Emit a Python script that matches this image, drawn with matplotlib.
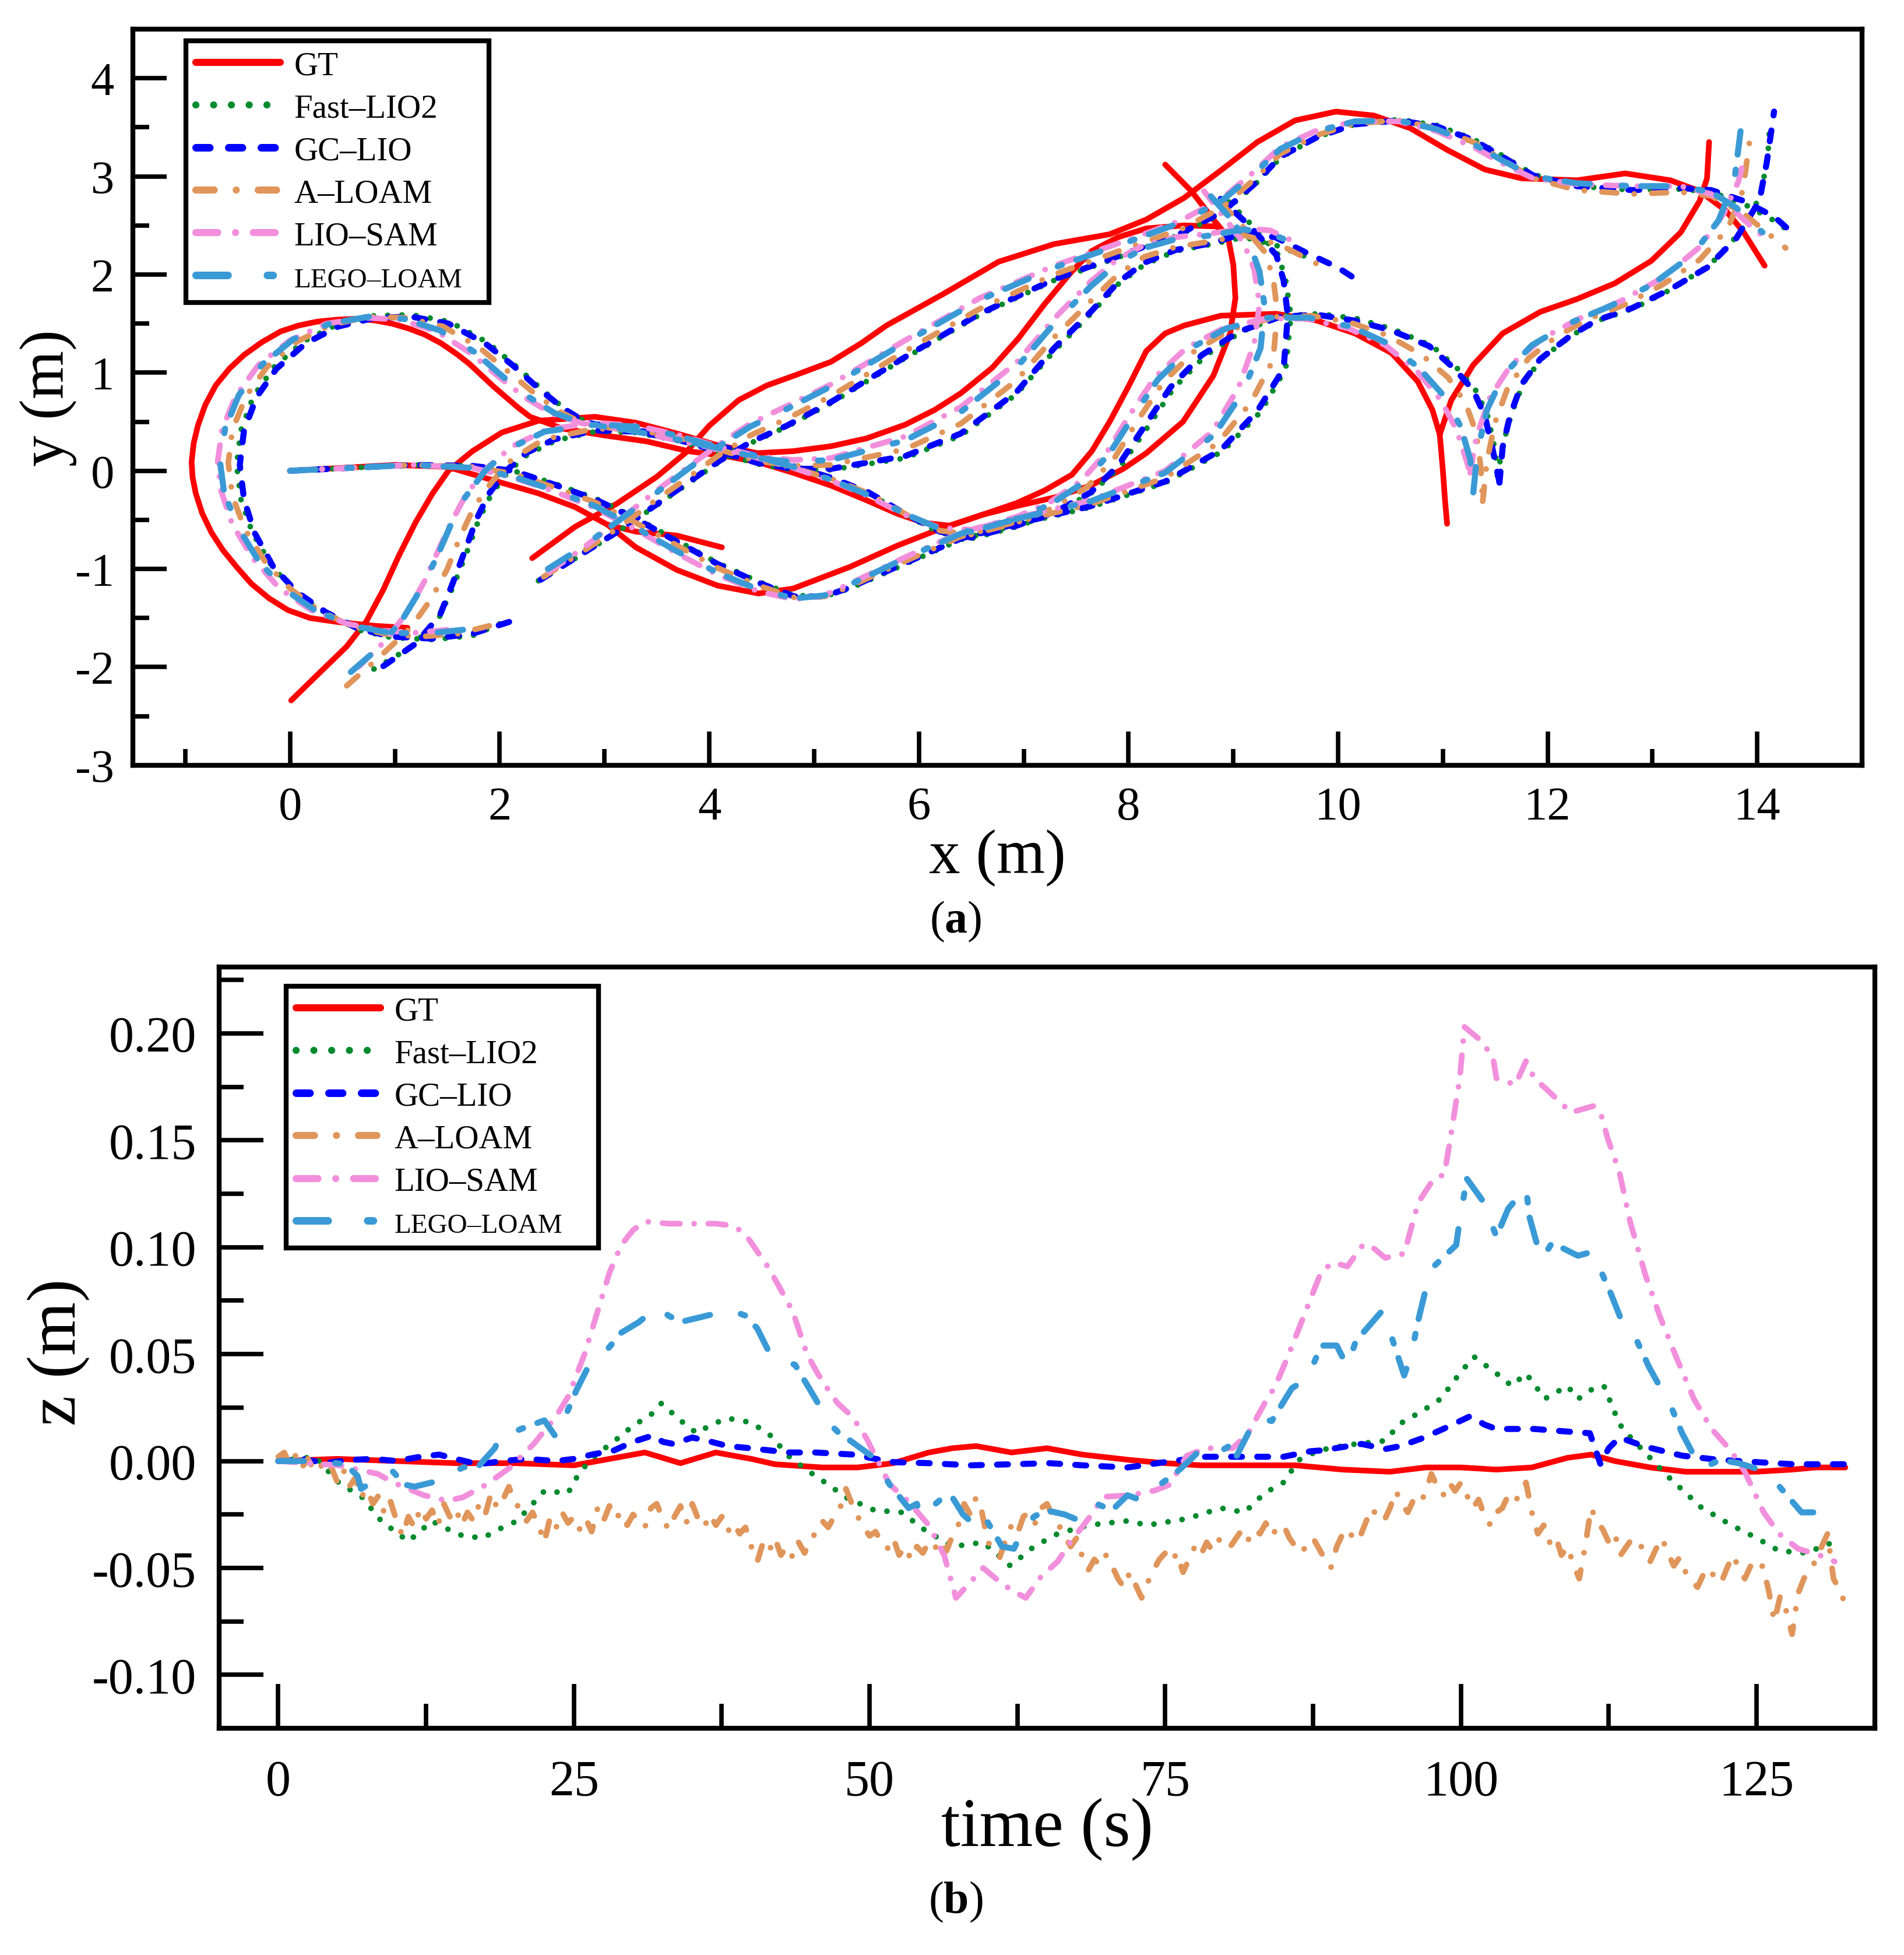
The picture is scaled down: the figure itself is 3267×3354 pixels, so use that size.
import matplotlib
matplotlib.use("Agg")
import matplotlib.pyplot as plt
import numpy as np
from matplotlib.ticker import MultipleLocator, FormatStrFormatter
from matplotlib.legend_handler import HandlerLine2D
from matplotlib.lines import Line2D

plt.rcParams['font.family'] = ['Liberation Serif', 'DejaVu Serif']
plt.rcParams['axes.unicode_minus'] = False
plt.rcParams['mathtext.fontset'] = 'custom'
plt.rcParams['mathtext.rm'] = 'Liberation Serif'
plt.rcParams['mathtext.bf'] = 'Liberation Serif:bold'

#Data##########################################################################
labels = ["GT", "Fast–LIO2", "GC–LIO", "A–LOAM", "LIO–SAM", "LEGO–LOAM"]

# (a) xy trajectories, each series is a list of strands of (x, y) points in m
gt_xy = [
    [(0, 0), (0.5, 0.03), (1.0, 0.06), (1.5, 0.04), (1.98, -0.11), (2.37, -0.23), (2.72, -0.37),
     (3.03, -0.55), (3.30, -0.78), (3.69, -1.01), (4.08, -1.17), (4.47, -1.25), (4.8, -1.2),
     (5.34, -0.98), (5.8, -0.76), (6.23, -0.58), (6.6, -0.45), (6.93, -0.36), (7.3, -0.27),
     (7.64, -0.15), (7.95, 0.02), (8.17, 0.18), (8.52, 0.5), (8.81, 0.97), (8.97, 1.4),
     (9.02, 1.76), (9.0, 2.1), (8.95, 2.38), (8.81, 2.56), (8.6, 2.85), (8.35, 3.12)],
    [(3.03, -0.55), (3.30, -0.62), (3.69, -0.66), (4.12, -0.78)],
    [(2.31, -0.89), (2.72, -0.57), (3.11, -0.34), (3.50, -0.06), (3.77, 0.18), (4.0, 0.46),
     (4.28, 0.72), (4.55, 0.87), (4.81, 0.97), (5.16, 1.11), (5.45, 1.3), (5.69, 1.48),
     (6.23, 1.80), (6.76, 2.13), (7.29, 2.31), (7.82, 2.41), (8.17, 2.56), (8.53, 2.78),
     (8.88, 3.06), (9.23, 3.35), (9.59, 3.57), (9.98, 3.66), (10.34, 3.62), (10.69, 3.49),
     (11.04, 3.27), (11.40, 3.07), (11.75, 2.98), (12.28, 2.96), (12.74, 3.03), (13.17, 2.96),
     (13.45, 2.85), (13.70, 2.65), (13.87, 2.43), (14.07, 2.09)],
    [(0.01, -2.34), (0.26, -2.08), (0.54, -1.79), (0.73, -1.53), (0.89, -1.21), (1.04, -0.86),
     (1.20, -0.52), (1.36, -0.23), (1.51, 0.0), (1.74, 0.20), (2.02, 0.39), (2.37, 0.51),
     (2.91, 0.55), (3.30, 0.49), (3.69, 0.38), (4.08, 0.26), (4.46, 0.18), (4.8, 0.2),
     (5.16, 0.25), (5.5, 0.33), (5.87, 0.47), (6.15, 0.62), (6.40, 0.79), (6.7, 1.05),
     (6.95, 1.35), (7.2, 1.7), (7.45, 2.02), (7.65, 2.24), (7.9, 2.38), (8.17, 2.47),
     (8.53, 2.50), (8.84, 2.49), (8.95, 2.40)],
    [(1.12, -1.60), (0.81, -1.58), (0.45, -1.54), (0.19, -1.50), (-0.02, -1.42), (-0.20, -1.30),
     (-0.37, -1.15), (-0.51, -0.98), (-0.64, -0.81), (-0.75, -0.63), (-0.84, -0.43),
     (-0.90, -0.23), (-0.93, -0.07), (-0.94, 0.09), (-0.92, 0.28), (-0.88, 0.46), (-0.81, 0.67),
     (-0.71, 0.87), (-0.58, 1.04), (-0.44, 1.18), (-0.27, 1.31), (-0.09, 1.42), (0.08, 1.48),
     (0.26, 1.52), (0.45, 1.54), (0.65, 1.55), (0.82, 1.53), (0.97, 1.50), (1.13, 1.45),
     (1.28, 1.39), (1.44, 1.30), (1.59, 1.19), (1.71, 1.09), (1.82, 0.98), (1.94, 0.86),
     (2.06, 0.75), (2.18, 0.64), (2.29, 0.55), (2.6, 0.43), (3.0, 0.36), (3.4, 0.3), (3.8, 0.2),
     (4.15, 0.15), (4.46, 0.09), (4.8, -0.02), (5.16, -0.15), (5.5, -0.3), (5.80, -0.44),
     (6.05, -0.53), (6.30, -0.56), (6.6, -0.45), (6.93, -0.33), (7.2, -0.2), (7.46, -0.04),
     (7.65, 0.2), (7.82, 0.50), (8.0, 0.86), (8.17, 1.22), (8.35, 1.4), (8.53, 1.48),
     (8.88, 1.58), (9.41, 1.60), (9.8, 1.53), (10.16, 1.40), (10.51, 1.20), (10.76, 0.91),
     (10.9, 0.62), (10.97, 0.37), (11.0, 0.0), (11.02, -0.3), (11.04, -0.54)],
    [(10.97, 0.37), (11.08, 0.72), (11.29, 1.08), (11.57, 1.40), (11.93, 1.62), (12.28, 1.75),
     (12.64, 1.91), (12.99, 2.14), (13.27, 2.43), (13.45, 2.75), (13.52, 2.98), (13.54, 3.35)],
]

fast_xy = [
    [(0, 0), (0.58, 0.03), (1.16, 0.06), (1.74, 0.05), (2.13, 0.0), (2.52, -0.13), (2.91, -0.28),
     (3.30, -0.48), (3.69, -0.71), (4.08, -0.94), (4.47, -1.13), (4.81, -1.27), (5.10, -1.28),
     (5.34, -1.2), (5.87, -0.95), (6.40, -0.7), (6.93, -0.55), (7.64, -0.37), (8.35, -0.12),
     (8.9, 0.2), (9.26, 0.6), (9.5, 1.04), (9.55, 1.58), (9.5, 1.94), (9.43, 2.2), (9.18, 2.5),
     (8.95, 2.75)],
    [(2.37, -1.12), (2.71, -0.9), (3.1, -0.64), (3.5, -0.35), (3.81, -0.12), (4.08, 0.08),
     (4.39, 0.28), (4.74, 0.45), (5.16, 0.69), (5.87, 1.15), (6.58, 1.59), (7.29, 1.94),
     (7.99, 2.21), (8.50, 2.41), (8.90, 2.63), (9.20, 2.91), (9.45, 3.19), (9.80, 3.4),
     (10.16, 3.53), (10.58, 3.58), (10.94, 3.52), (11.29, 3.38), (11.57, 3.21), (11.86, 3.02),
     (12.28, 2.9), (12.81, 2.86), (13.27, 2.87), (13.56, 2.84), (13.87, 2.72), (14.16, 2.55),
     (14.32, 2.43)],
    [(0.8, -2.02), (1.15, -1.8), (1.42, -1.5), (1.56, -1.17), (1.69, -0.82), (1.8, -0.5),
     (1.92, -0.24), (2.08, -0.01), (2.27, 0.17), (2.54, 0.31), (2.91, 0.4), (3.30, 0.39),
     (3.69, 0.31), (4.08, 0.19), (4.46, 0.07), (4.80, 0.01), (5.16, 0.01), (5.87, 0.13),
     (6.40, 0.36), (6.93, 0.78), (7.29, 1.22), (7.64, 1.6), (7.90, 1.9), (8.15, 2.1),
     (8.45, 2.24), (8.80, 2.31), (9.10, 2.38), (9.40, 2.3), (9.7, 2.18)],
    [(2.0, -1.56), (1.74, -1.68), (1.36, -1.72), (0.97, -1.7), (0.65, -1.62), (0.34, -1.45),
     (0.07, -1.25), (-0.17, -0.98), (-0.36, -0.63), (-0.47, -0.29), (-0.51, 0.06), (-0.47, 0.41),
     (-0.35, 0.76), (-0.15, 1.06), (0.13, 1.32), (0.45, 1.49), (0.8, 1.58), (1.16, 1.59),
     (1.52, 1.52), (1.88, 1.31), (2.15, 1.07), (2.39, 0.84), (2.62, 0.63), (2.85, 0.48),
     (3.11, 0.43), (3.50, 0.37), (3.90, 0.29), (4.30, 0.19), (4.70, 0.07), (5.16, -0.08),
     (5.52, -0.23), (5.87, -0.45), (6.20, -0.63), (6.50, -0.69), (6.93, -0.57), (7.30, -0.43),
     (7.64, -0.23), (7.92, 0.04), (8.18, 0.44), (8.43, 0.84), (8.73, 1.17), (9.08, 1.42),
     (9.47, 1.58), (9.82, 1.6), (10.18, 1.55), (10.53, 1.44), (10.9, 1.27), (11.14, 1.04),
     (11.32, 0.81), (11.43, 0.55), (11.5, 0.2), (11.52, -0.05)],
    [(11.52, -0.05), (11.58, 0.3), (11.66, 0.6), (11.77, 0.9), (11.95, 1.15), (12.23, 1.38),
     (12.48, 1.53), (12.83, 1.66), (13.2, 1.86), (13.55, 2.1), (13.83, 2.42), (14.03, 2.8),
     (14.1, 3.2), (14.12, 3.55)],
]

gc_xy = [
    [(0, 0), (0.58, 0.03), (1.16, 0.06), (1.74, 0.05), (2.13, 0.0), (2.52, -0.14), (2.91, -0.29),
     (3.30, -0.49), (3.69, -0.72), (4.08, -0.95), (4.47, -1.14), (4.81, -1.28), (5.10, -1.28),
     (5.34, -1.19), (5.87, -0.94), (6.40, -0.69), (6.93, -0.54), (7.64, -0.36), (8.35, -0.11),
     (8.88, 0.21), (9.23, 0.61), (9.48, 1.04), (9.52, 1.58), (9.48, 1.94), (9.41, 2.20),
     (9.16, 2.49), (8.88, 2.77)],
    [(2.39, -1.11), (2.72, -0.89), (3.11, -0.63), (3.50, -0.34), (3.81, -0.11), (4.08, 0.09),
     (4.39, 0.29), (4.74, 0.46), (5.16, 0.70), (5.87, 1.16), (6.58, 1.60), (7.29, 1.95),
     (7.99, 2.22), (8.50, 2.42), (8.90, 2.64), (9.20, 2.92), (9.45, 3.20), (9.80, 3.40),
     (10.16, 3.53), (10.58, 3.57), (10.94, 3.51), (11.29, 3.37), (11.57, 3.20), (11.86, 3.01),
     (12.28, 2.90), (12.81, 2.86), (13.27, 2.88), (13.56, 2.86), (13.87, 2.75), (14.16, 2.59),
     (14.35, 2.41)],
    [(0.89, -1.99), (1.20, -1.76), (1.43, -1.47), (1.55, -1.15), (1.67, -0.81), (1.78, -0.49),
     (1.90, -0.23), (2.06, 0.0), (2.25, 0.18), (2.52, 0.32), (2.91, 0.41), (3.30, 0.40),
     (3.69, 0.32), (4.08, 0.20), (4.46, 0.08), (4.80, 0.02), (5.16, 0.02), (5.87, 0.15),
     (6.40, 0.38), (6.93, 0.80), (7.29, 1.25), (7.64, 1.62), (7.90, 1.92), (8.15, 2.12),
     (8.45, 2.25), (8.80, 2.32), (9.10, 2.42), (9.40, 2.38), (9.70, 2.22), (10.0, 2.07),
     (10.23, 1.91)],
    [(2.09, -1.54), (1.74, -1.66), (1.36, -1.71), (0.97, -1.69), (0.65, -1.61), (0.34, -1.44),
     (0.07, -1.24), (-0.16, -0.98), (-0.34, -0.63), (-0.44, -0.29), (-0.48, 0.06), (-0.44, 0.41),
     (-0.32, 0.75), (-0.13, 1.04), (0.15, 1.30), (0.46, 1.47), (0.81, 1.56), (1.16, 1.57),
     (1.51, 1.50), (1.86, 1.30), (2.13, 1.07), (2.37, 0.84), (2.60, 0.64), (2.83, 0.49),
     (3.11, 0.44), (3.50, 0.38), (3.90, 0.30), (4.30, 0.20), (4.70, 0.08), (5.16, -0.07),
     (5.52, -0.22), (5.87, -0.44), (6.20, -0.62), (6.50, -0.68), (6.93, -0.56), (7.30, -0.42),
     (7.64, -0.22), (7.90, 0.05), (8.15, 0.45), (8.40, 0.85), (8.70, 1.18), (9.06, 1.42),
     (9.45, 1.57), (9.80, 1.59), (10.16, 1.53), (10.51, 1.43), (10.87, 1.27), (11.11, 1.04),
     (11.29, 0.82), (11.40, 0.56), (11.47, 0.24), (11.54, -0.12)],
    [(11.54, -0.12), (11.57, 0.24), (11.64, 0.56), (11.75, 0.88), (11.93, 1.14), (12.21, 1.37),
     (12.46, 1.53), (12.81, 1.66), (13.17, 1.85), (13.52, 2.07), (13.80, 2.37), (14.02, 2.75),
     (14.09, 3.14), (14.16, 3.66)],
]

aloam_xy = [
    [(0, 0), (0.58, 0.03), (1.16, 0.06), (1.74, 0.04), (2.13, -0.03), (2.52, -0.17), (2.91, -0.32),
     (3.30, -0.53), (3.69, -0.76), (4.08, -0.99), (4.47, -1.17), (4.81, -1.29), (5.10, -1.28),
     (5.34, -1.18), (5.87, -0.92), (6.40, -0.67), (6.93, -0.52), (7.64, -0.34), (8.35, -0.07),
     (8.85, 0.28), (9.17, 0.7), (9.38, 1.13), (9.42, 1.62), (9.38, 1.97), (9.3, 2.23),
     (9.06, 2.53), (8.82, 2.8)],
    [(2.42, -1.08), (2.74, -0.86), (3.12, -0.59), (3.5, -0.29), (3.81, -0.06), (4.08, 0.15),
     (4.39, 0.36), (4.74, 0.53), (5.16, 0.76), (5.87, 1.22), (6.58, 1.65), (7.29, 2.0),
     (7.99, 2.27), (8.50, 2.46), (8.90, 2.69), (9.20, 2.97), (9.45, 3.23), (9.80, 3.42),
     (10.16, 3.54), (10.58, 3.57), (10.94, 3.49), (11.29, 3.35), (11.57, 3.17), (11.86, 2.98),
     (12.28, 2.86), (12.81, 2.82), (13.27, 2.84), (13.56, 2.8), (13.87, 2.62), (14.1, 2.42),
     (14.27, 2.27)],
    [(0.54, -2.19), (0.85, -1.9), (1.15, -1.6), (1.35, -1.3), (1.5, -1.0), (1.62, -0.68),
     (1.75, -0.38), (1.92, -0.12), (2.12, 0.12), (2.42, 0.32), (2.91, 0.43), (3.30, 0.42),
     (3.69, 0.34), (4.08, 0.22), (4.46, 0.1), (4.80, 0.05), (5.16, 0.06), (5.87, 0.22),
     (6.40, 0.48), (6.93, 0.92), (7.29, 1.36), (7.64, 1.73), (7.90, 2.0), (8.15, 2.18),
     (8.45, 2.28), (8.80, 2.34), (9.10, 2.4), (9.45, 2.3), (9.85, 2.08)],
    [(1.9, -1.58), (1.6, -1.66), (1.25, -1.69), (0.9, -1.66), (0.58, -1.58), (0.27, -1.42),
     (0.0, -1.2), (-0.23, -0.94), (-0.43, -0.6), (-0.55, -0.26), (-0.59, 0.08), (-0.55, 0.42),
     (-0.42, 0.76), (-0.22, 1.06), (0.07, 1.32), (0.4, 1.49), (0.76, 1.57), (1.1, 1.56),
     (1.46, 1.47), (1.8, 1.26), (2.07, 1.02), (2.32, 0.8), (2.56, 0.61), (2.8, 0.48), (3.1, 0.43),
     (3.5, 0.36), (3.9, 0.28), (4.3, 0.18), (4.7, 0.06), (5.16, -0.08), (5.52, -0.23),
     (5.87, -0.44), (6.2, -0.61), (6.5, -0.65), (6.93, -0.53), (7.28, -0.38), (7.6, -0.17),
     (7.86, 0.12), (8.08, 0.5), (8.33, 0.9), (8.63, 1.22), (8.98, 1.44), (9.38, 1.56),
     (9.75, 1.58), (10.12, 1.51), (10.47, 1.38), (10.8, 1.18), (11.05, 0.95), (11.22, 0.68),
     (11.32, 0.38), (11.36, 0.05), (11.38, -0.31)],
    [(11.38, -0.31), (11.42, 0.1), (11.5, 0.5), (11.62, 0.85), (11.82, 1.15), (12.1, 1.38),
     (12.4, 1.55), (12.75, 1.7), (13.1, 1.9), (13.45, 2.15), (13.72, 2.47), (13.86, 2.85),
     (13.93, 3.38)],
]

liosam_xy = [
    [(0, 0), (0.58, 0.03), (1.16, 0.06), (1.74, 0.03), (2.13, -0.07), (2.52, -0.21), (2.91, -0.38),
     (3.30, -0.60), (3.69, -0.84), (4.08, -1.06), (4.47, -1.23), (4.81, -1.31), (5.10, -1.27),
     (5.34, -1.15), (5.87, -0.88), (6.40, -0.63), (6.93, -0.48), (7.64, -0.30), (8.35, 0.0),
     (8.80, 0.4), (9.05, 0.85), (9.2, 1.3), (9.25, 1.7), (9.2, 2.05), (9.1, 2.32), (8.9, 2.6),
     (8.72, 2.85)],
    [(2.47, -1.03), (2.78, -0.8), (3.13, -0.51), (3.5, -0.2), (3.81, 0.05), (4.08, 0.26),
     (4.39, 0.48), (4.74, 0.66), (5.16, 0.88), (5.87, 1.33), (6.58, 1.76), (7.29, 2.09),
     (7.99, 2.35), (8.50, 2.55), (8.90, 2.78), (9.20, 3.05), (9.45, 3.3), (9.80, 3.47),
     (10.16, 3.56), (10.58, 3.56), (10.94, 3.46), (11.29, 3.3), (11.57, 3.13), (11.86, 2.98),
     (12.28, 2.92), (12.81, 2.9), (13.27, 2.9), (13.56, 2.82), (13.8, 2.63), (13.98, 2.45),
     (14.09, 2.37)],
    [(0.65, -2.0), (0.92, -1.72), (1.13, -1.42), (1.28, -1.13), (1.41, -0.82), (1.54, -0.52),
     (1.68, -0.24), (1.88, 0.03), (2.12, 0.25), (2.45, 0.42), (2.91, 0.49), (3.30, 0.46),
     (3.69, 0.37), (4.08, 0.25), (4.46, 0.15), (4.80, 0.11), (5.16, 0.13), (5.87, 0.35),
     (6.40, 0.65), (6.93, 1.1), (7.29, 1.55), (7.64, 1.93), (7.90, 2.16), (8.15, 2.3),
     (8.45, 2.38), (8.80, 2.42), (9.10, 2.47), (9.35, 2.45), (9.55, 2.35)],
    [(1.5, -1.62), (1.2, -1.65), (0.9, -1.63), (0.55, -1.56), (0.2, -1.42), (-0.1, -1.2),
     (-0.35, -0.9), (-0.55, -0.55), (-0.66, -0.2), (-0.69, 0.1), (-0.65, 0.42), (-0.52, 0.76),
     (-0.3, 1.08), (0.0, 1.33), (0.35, 1.5), (0.72, 1.56), (1.05, 1.54), (1.4, 1.42), (1.72, 1.2),
     (2.0, 0.95), (2.25, 0.74), (2.5, 0.58), (2.8, 0.48), (3.2, 0.42), (3.6, 0.33), (4.0, 0.24),
     (4.4, 0.15), (4.8, 0.03), (5.16, -0.1), (5.5, -0.25), (5.87, -0.45), (6.2, -0.58),
     (6.5, -0.6), (6.93, -0.47), (7.25, -0.32), (7.55, -0.1), (7.8, 0.2), (8.0, 0.55),
     (8.25, 0.95), (8.55, 1.25), (8.9, 1.45), (9.3, 1.55), (9.7, 1.55), (10.1, 1.45),
     (10.45, 1.28), (10.75, 1.02), (10.98, 0.72), (11.13, 0.42), (11.22, 0.12), (11.26, -0.02)],
    [(11.26, -0.02), (11.32, 0.35), (11.45, 0.75), (11.65, 1.08), (11.95, 1.35), (12.3, 1.55),
     (12.7, 1.73), (13.1, 1.97), (13.45, 2.28), (13.68, 2.62), (13.82, 2.95), (13.88, 3.2)],
]

lego_xy = [
    [(0, 0), (0.58, 0.03), (1.16, 0.06), (1.74, 0.03), (2.13, -0.06), (2.52, -0.2), (2.91, -0.36),
     (3.30, -0.58), (3.69, -0.82), (4.08, -1.04), (4.47, -1.21), (4.81, -1.3), (5.10, -1.27),
     (5.34, -1.16), (5.87, -0.89), (6.40, -0.64), (6.93, -0.49), (7.64, -0.31), (8.35, -0.02),
     (8.82, 0.37), (9.09, 0.8), (9.26, 1.25), (9.3, 1.67), (9.25, 2.03), (9.16, 2.3),
     (8.95, 2.6), (8.7, 2.9)],
    [(2.46, -1.0), (2.77, -0.79), (3.12, -0.52), (3.5, -0.22), (3.81, 0.03), (4.08, 0.24),
     (4.39, 0.45), (4.74, 0.63), (5.16, 0.86), (5.87, 1.31), (6.58, 1.74), (7.29, 2.07),
     (7.99, 2.33), (8.50, 2.53), (8.90, 2.76), (9.20, 3.03), (9.45, 3.28), (9.80, 3.46),
     (10.16, 3.56), (10.58, 3.57), (10.94, 3.48), (11.29, 3.33), (11.57, 3.16), (11.86, 3.0),
     (12.28, 2.93), (12.81, 2.9), (13.27, 2.9), (13.56, 2.84), (13.8, 2.68), (13.95, 2.52),
     (14.05, 2.43)],
    [(0.58, -2.05), (0.85, -1.8), (1.08, -1.5), (1.25, -1.2), (1.4, -0.88), (1.53, -0.56),
     (1.67, -0.27), (1.86, 0.0), (2.1, 0.23), (2.43, 0.4), (2.91, 0.47), (3.30, 0.45),
     (3.69, 0.36), (4.08, 0.24), (4.46, 0.13), (4.80, 0.09), (5.16, 0.11), (5.87, 0.31),
     (6.40, 0.6), (6.93, 1.05), (7.29, 1.5), (7.64, 1.88), (7.90, 2.12), (8.15, 2.27),
     (8.45, 2.36), (8.80, 2.4), (9.10, 2.46), (9.35, 2.42), (9.55, 2.33)],
    [(1.65, -1.62), (1.3, -1.66), (0.95, -1.65), (0.6, -1.58), (0.25, -1.43), (-0.05, -1.21),
     (-0.3, -0.92), (-0.5, -0.57), (-0.63, -0.22), (-0.67, 0.1), (-0.62, 0.43), (-0.49, 0.77),
     (-0.27, 1.08), (0.03, 1.34), (0.38, 1.5), (0.75, 1.57), (1.08, 1.55), (1.43, 1.43),
     (1.76, 1.21), (2.03, 0.96), (2.28, 0.75), (2.52, 0.59), (2.8, 0.48), (3.2, 0.42), (3.6, 0.34),
     (4.0, 0.25), (4.4, 0.16), (4.8, 0.04), (5.16, -0.09), (5.5, -0.24), (5.87, -0.44),
     (6.2, -0.59), (6.5, -0.62), (6.93, -0.49), (7.26, -0.34), (7.57, -0.12), (7.82, 0.18),
     (8.03, 0.53), (8.28, 0.93), (8.58, 1.24), (8.93, 1.45), (9.33, 1.56), (9.72, 1.56),
     (10.12, 1.47), (10.47, 1.3), (10.77, 1.05), (11.02, 0.75), (11.17, 0.45), (11.26, 0.12),
     (11.29, -0.22)],
    [(11.29, -0.22), (11.33, 0.2), (11.42, 0.62), (11.58, 0.98), (11.85, 1.28), (12.2, 1.5),
     (12.6, 1.68), (13.0, 1.9), (13.38, 2.2), (13.63, 2.55), (13.78, 2.95), (13.84, 3.46)],
]

# (b) z over time, (t [s], z [m])
gt_tz = [(0, 0), (5, 0.001), (10, 0), (15, -0.001), (20, -0.001), (25, -0.002), (28, 0.001),
         (31, 0.004), (34, -0.001), (37, 0.004), (40, 0.001), (42, -0.0015), (46, -0.003),
         (49, -0.003), (52, -0.001), (55, 0.004), (57, 0.006), (59, 0.007), (62, 0.004),
         (65, 0.006), (68, 0.003), (72, 0.0005), (75, -0.001), (78, -0.002), (82, -0.002),
         (86, -0.002), (90, -0.004), (94, -0.005), (97, -0.003), (100, -0.003), (103, -0.004),
         (106, -0.003), (109, 0.0015), (111, 0.003), (113, 0.0), (116, -0.003), (119, -0.005),
         (122, -0.005), (125, -0.005), (128, -0.004), (130, -0.003), (132.5, -0.003)]

fast_tz = [(0, 0), (3.1, 0.002), (5.1, -0.010), (7.1, -0.017), (8.7, -0.028), (11, -0.0376),
           (13, -0.028), (13.6, -0.030), (15.6, -0.035), (17.3, -0.036), (18.6, -0.032),
           (20.2, -0.028), (22.5, -0.014), (24.5, -0.015), (25.5, -0.005), (26.8, 0.0025),
           (28.8, 0.011), (30.1, 0.017), (31.4, 0.021), (32.4, 0.027), (34, 0.019), (35.4, 0.013),
           (36.6, 0.017), (38, 0.020), (40, 0.018), (41.6, 0.012), (43.3, 0.0015), (44.9, -0.005),
           (46.5, -0.011), (48, -0.017), (50.4, -0.023), (52.7, -0.024), (54.6, -0.032),
           (57, -0.040), (59.6, -0.038), (61.9, -0.049), (63.9, -0.040), (65.9, -0.034),
           (68.5, -0.030), (71.8, -0.028), (73.5, -0.030), (76.8, -0.027), (79.7, -0.022),
           (81.7, -0.024), (83.4, -0.015), (85, -0.010), (86.3, 0.0005), (88, 0.005),
           (90.4, 0.0075), (93.6, 0.0095), (94.8, 0.0173), (96.7, 0.0233), (98.3, 0.0291),
           (99.9, 0.041), (101.1, 0.0488), (103, 0.041), (104.3, 0.0351), (105.5, 0.041),
           (107.1, 0.0291), (109, 0.0351), (109.9, 0.029), (111.2, 0.034), (112.1, 0.035),
           (113.4, 0.0173), (114.3, 0.0113), (117.5, -0.0072), (120.3, -0.0216), (122.8, -0.0298),
           (125, -0.036), (126.9, -0.042), (129.4, -0.0431), (130.7, -0.039), (132.2, -0.038)]

gc_tz = [(0, 0), (2, 0.001), (4, -0.001), (6, 0.0005), (8, 0.001), (10, 0.0), (12, 0.002),
         (13.6, 0.003), (15, 0.001), (16.9, -0.0015), (19, 0.0), (21, 0.001), (23.5, 0.0),
         (25, 0.001), (26.5, 0.003), (28.4, 0.005), (30, 0.009), (31.7, 0.012), (32.5, 0.009),
         (33.4, 0.008), (35, 0.011), (36.6, 0.009), (38, 0.007), (39.9, 0.006), (41.5, 0.005),
         (43.2, 0.004), (45.4, 0.004), (48.7, 0.003), (50.5, 0.001), (52, -0.0005), (55, -0.001),
         (58.6, -0.002), (62, -0.0015), (65.2, -0.001), (68, -0.002), (71.8, -0.003),
         (75, -0.0005), (78.4, 0.002), (82, 0.002), (85, 0.002), (87.3, 0.0046), (88.3, 0.005),
         (91.6, 0.008), (93.6, 0.0056), (94.9, 0.007), (96.7, 0.0106), (98.5, 0.015),
         (100.8, 0.021), (102, 0.017), (103, 0.015), (106.2, 0.015), (108.5, 0.014),
         (110.9, 0.013), (111.8, -0.0015), (112.5, 0.006), (113.4, 0.011), (115.6, 0.0067),
         (118.7, 0.0025), (121.9, 0.0005), (125, -0.0005), (128.1, -0.0015), (132.5, -0.0015)]

# A-LOAM is read every 0.5 s from t = 0 s to t = 132.5 s
aloam_t0, aloam_dt = 0.0, 0.5
aloam_z = [
    0.002, 0.004, -0.002, 0.003, -0.003, 0.001, -0.004, -0.001, -0.006, -0.003, -0.010,
    -0.004, -0.012, -0.008, -0.017, -0.013, -0.020, -0.016, -0.025, -0.019, -0.028,
    -0.035, -0.026, -0.031, -0.022, -0.027, -0.023, -0.030, -0.020, -0.026, -0.022,
    -0.030, -0.024, -0.028, -0.020, -0.025, -0.015, -0.022, -0.018, -0.012, -0.020,
    -0.022, -0.028, -0.024, -0.030, -0.038, -0.026, -0.031, -0.024, -0.029, -0.026,
    -0.032, -0.027, -0.033, -0.022, -0.028, -0.021, -0.027, -0.024, -0.030, -0.025,
    -0.028, -0.031, -0.022, -0.020, -0.027, -0.032, -0.026, -0.021, -0.029, -0.020,
    -0.027, -0.031, -0.025, -0.030, -0.026, -0.033, -0.029, -0.034, -0.031, -0.040,
    -0.047, -0.038, -0.042, -0.036, -0.044, -0.040, -0.045, -0.038, -0.043, -0.037,
    -0.033, -0.028, -0.031, -0.026, -0.022, -0.013, -0.020, -0.026, -0.031, -0.035,
    -0.033, -0.038, -0.041, -0.036, -0.044, -0.040, -0.046, -0.040, -0.043, -0.038,
    -0.041, -0.037, -0.042, -0.035, -0.030, -0.020, -0.025, -0.017, -0.024, -0.038,
    -0.041, -0.045, -0.037, -0.030, -0.034, -0.026, -0.024, -0.029, -0.022, -0.020,
    -0.026, -0.030, -0.035, -0.040, -0.036, -0.045, -0.051, -0.046, -0.049, -0.044,
    -0.049, -0.055, -0.059, -0.052, -0.058, -0.064, -0.057, -0.051, -0.046, -0.043,
    -0.047, -0.043, -0.052, -0.046, -0.040, -0.044, -0.038, -0.042, -0.037, -0.036,
    -0.040, -0.036, -0.032, -0.037, -0.032, -0.034, -0.029, -0.035, -0.031, -0.030,
    -0.036, -0.040, -0.043, -0.039, -0.036, -0.041, -0.046, -0.050, -0.040, -0.034,
    -0.037, -0.032, -0.035, -0.028, -0.022, -0.027, -0.028, -0.022, -0.014, -0.020,
    -0.024, -0.018, -0.020, -0.015, -0.006, -0.012, -0.016, -0.010, -0.014, -0.010,
    -0.016, -0.022, -0.018, -0.026, -0.030, -0.024, -0.022, -0.016, -0.019, -0.016,
    -0.010, -0.024, -0.034, -0.030, -0.038, -0.035, -0.044, -0.040, -0.048, -0.055,
    -0.040, -0.022, -0.028, -0.032, -0.038, -0.034, -0.044, -0.040, -0.036, -0.038,
    -0.042, -0.047, -0.041, -0.036, -0.043, -0.049, -0.045, -0.052, -0.056, -0.059,
    -0.053, -0.050, -0.055, -0.057, -0.050, -0.044, -0.050, -0.055, -0.049, -0.052,
    -0.049, -0.060, -0.075, -0.063, -0.070, -0.081, -0.062, -0.055, -0.050, -0.047,
    -0.040, -0.034, -0.055, -0.060, -0.067,
]

liosam_tz = [(0, 0), (5.1, -0.002), (8.4, -0.006), (9.7, -0.010), (12.3, -0.016), (14.3, -0.0186),
             (15.6, -0.017), (17.6, -0.011), (19.6, -0.003), (21.6, 0.008), (23.5, 0.021),
             (24.5, 0.030), (25.2, 0.040), (25.9, 0.050), (27, 0.07), (28, 0.088), (29, 0.101),
             (30, 0.108), (31, 0.112), (33, 0.111), (35, 0.111), (37, 0.111), (38.5, 0.11),
             (39.5, 0.106), (40.5, 0.098), (41.5, 0.09), (42.5, 0.08), (43.5, 0.07), (44.7, 0.05),
             (45.6, 0.041), (46.3, 0.035), (47.3, 0.027), (48.5, 0.021), (49.7, 0.011),
             (50.7, 0.0), (51.7, -0.011), (53.3, -0.019), (55, -0.030), (56.3, -0.044),
             (57.3, -0.064), (58.3, -0.058), (59.6, -0.050), (60.9, -0.056), (61.9, -0.060),
             (63.2, -0.064), (64.5, -0.054), (65.9, -0.047), (66.9, -0.0385), (68.5, -0.027),
             (69.8, -0.0167), (72, -0.016), (74.1, -0.0138), (75.4, -0.011), (76.8, 0.0024),
             (78.4, 0.006), (80.7, 0.006), (82, 0.0129), (83.4, 0.027), (84.3, 0.035),
             (85.3, 0.048), (86.3, 0.062), (87.3, 0.076), (88.2, 0.0887), (89.2, 0.0928),
             (90.4, 0.091), (91.7, 0.101), (92.3, 0.101), (93.6, 0.095), (95.2, 0.097),
             (96.4, 0.121), (97.7, 0.132), (98.6, 0.134), (99.2, 0.154), (99.9, 0.179),
             (100.3, 0.203), (101.6, 0.197), (102.7, 0.189), (103, 0.179), (104.6, 0.176),
             (105.5, 0.187), (106.2, 0.179), (107.4, 0.173), (109.3, 0.163), (111.2, 0.166),
             (111.8, 0.163), (112.4, 0.151), (113.4, 0.135), (114.3, 0.112), (115.6, 0.087),
             (116.8, 0.068), (118.1, 0.050), (119.7, 0.029), (121.2, 0.015), (122.8, 0.005),
             (124, -0.005), (125.6, -0.024), (126.9, -0.034), (128.5, -0.041), (130.3, -0.044),
             (131.6, -0.047)]

lego_tz = [(0, 0), (3.1, 0.0), (5.7, -0.0015), (6.7, -0.007), (7.0, -0.013), (8.5, -0.008),
           (9.7, -0.005), (10.7, -0.011), (11.5, -0.012), (13, -0.01), (14.3, -0.007),
           (15.6, -0.003), (17, -0.002), (18.3, 0.006), (18.9, 0.013), (19.6, 0.013), (21, 0.016),
           (22.5, 0.019), (23.5, 0.011), (24.2, 0.02), (25.2, 0.033), (26.2, 0.044),
           (27.8, 0.052), (29, 0.06), (30.5, 0.065), (32, 0.072), (33, 0.068), (34, 0.065),
           (35.5, 0.067), (37, 0.069), (38.5, 0.07), (39.5, 0.068), (40.5, 0.062), (41.4, 0.052),
           (42, 0.048), (43.7, 0.045), (45, 0.033), (46.7, 0.017), (47.6, 0.012), (48, 0.011),
           (50.4, 0.0014), (51, -0.005), (51.7, -0.011), (53.3, -0.022), (54, -0.020),
           (54.3, -0.026), (56, -0.018), (57, -0.017), (57.9, -0.025), (58.9, -0.030),
           (59.6, -0.025), (61.2, -0.040), (62.2, -0.041), (62.9, -0.033), (63.9, -0.026),
           (64.9, -0.023), (66.5, -0.025), (67.8, -0.028), (69.2, -0.020), (70.5, -0.023),
           (71.8, -0.016), (72.8, -0.018), (73.8, -0.014), (75.8, -0.006), (77.1, 0.0005),
           (78.1, 0.006), (79.5, 0.004), (80.4, 0.007), (81, 0.002), (82.7, 0.0205),
           (84, 0.0187), (85.7, 0.034), (87, 0.0386), (88.2, 0.054), (89.5, 0.054),
           (90.4, 0.044), (91.1, 0.056), (93.3, 0.070), (93.9, 0.062), (95.2, 0.040),
           (95.8, 0.050), (96.4, 0.066), (97.4, 0.089), (97.7, 0.091), (99.6, 0.101),
           (99.9, 0.113), (100.5, 0.132), (101.8, 0.122), (103, 0.105), (104, 0.118),
           (105.5, 0.128), (105.8, 0.114), (106.8, 0.094), (107.7, 0.102), (109.9, 0.096),
           (111.2, 0.098), (111.5, 0.093), (112.7, 0.078), (113.7, 0.064), (114.9, 0.056),
           (115.9, 0.044), (117.8, 0.025), (118.7, 0.013), (120.3, -0.0037), (121.9, 0.0005),
           (123.5, -0.001), (125, -0.0036), (126.6, -0.0098), (128.8, -0.024), (131.6, -0.024)]

#Styles########################################################################
colors = ["#ff0000", "#008a2e", "#0000ff", "#e0955a", "#f28fdc", "#3a9ad6"]
widths = [7.0, 7.0, 7.5, 7.0, 7.0, 7.5]
dashes = ["-", (0, (0.01, 2.5)), (0, (1.8, 2.5)), (0, (2.6, 3.1, 0.01, 3.1)),
          (0, (3.1, 2.5, 0.01, 2.5)), (0, (4.2, 5.2, 0.75, 2.5))]


def join(strands):
    xs, ys = [], []
    for s in strands:
        a = np.array(s, dtype=float)
        xs += list(a[:, 0]) + [np.nan]
        ys += list(a[:, 1]) + [np.nan]
    return xs, ys


def style_axes(ax, major_len, minor_len, xpad, ypad, size):
    for sp in ax.spines.values():
        sp.set_linewidth(6)
    ax.tick_params(which="both", direction="in", top=False, right=False, width=5.5,
                   labelsize=size)
    ax.tick_params(which="major", length=major_len)
    ax.tick_params(which="minor", length=minor_len)
    ax.tick_params(axis="x", pad=xpad)
    ax.tick_params(axis="y", pad=ypad)


def add_legend(ax, handles, box):
    # box = (x0, y_top, width) in axes fraction, legend frame spans that width
    x0, y_top, w = box
    leg = ax.legend(handles=handles, loc="upper left", bbox_to_anchor=(x0, y_top - 0.5, w, 0.5),
                    mode="expand", borderaxespad=0, fontsize=41, frameon=True, fancybox=False,
                    edgecolor="black", framealpha=1, handlelength=2.55, handletextpad=0.4,
                    labelspacing=0.37, borderpad=0.3,
                    handler_map={Line2D: HandlerLine2D(marker_pad=0)})
    leg.get_frame().set_linewidth(6)
    leg.get_texts()[5].set_fontsize(34)
    for ln in leg.get_lines():
        ln.set_linewidth(ln.get_linewidth() * 1.25)
    return leg


fig = plt.figure(figsize=(32.67, 33.55), dpi=100)

#(a) trajectory#################################################################
ax1 = fig.add_axes([0.0698, 0.6084, 0.9082, 0.3764])
series_xy = [gt_xy, fast_xy, gc_xy, aloam_xy, liosam_xy, lego_xy]
h1 = []
for i, data in enumerate(series_xy):
    x, y = join(data)
    ln, = ax1.plot(x, y, color=colors[i], lw=widths[i], ls=dashes[i], label=labels[i],
                   dash_capstyle="round", solid_capstyle="round", solid_joinstyle="round")
    h1.append(ln)
ax1.set_xlim(-1.5, 15)
ax1.set_ylim(-3, 4.5)
ax1.xaxis.set_major_locator(MultipleLocator(2))
ax1.xaxis.set_minor_locator(MultipleLocator(1))
ax1.yaxis.set_major_locator(MultipleLocator(1))
ax1.yaxis.set_minor_locator(MultipleLocator(0.5))
style_axes(ax1, 42, 20, 26, 23, 58)
ax1.set_xlabel("x (m)", fontsize=77)
ax1.set_ylabel("y (m)", fontsize=77)
ax1.xaxis.set_label_coords(0.5, -0.0863)
ax1.yaxis.set_label_coords(-0.0323, 0.5)
add_legend(ax1, h1, (0.0307, 0.9842, 0.1752))

#(b) z over time################################################################
ax2 = fig.add_axes([0.1151, 0.1159, 0.8696, 0.3893])
aloam_t = aloam_t0 + aloam_dt * np.arange(len(aloam_z))
series_tz = [np.array(gt_tz), np.array(fast_tz), np.array(gc_tz),
             np.column_stack([aloam_t, aloam_z]), np.array(liosam_tz), np.array(lego_tz)]
h2 = []
for i, a in enumerate(series_tz):
    ln, = ax2.plot(a[:, 0], a[:, 1], color=colors[i], lw=widths[i], ls=dashes[i],
                   label=labels[i], dash_capstyle="round", solid_capstyle="round",
                   solid_joinstyle="round")
    h2.append(ln)
ax2.set_xlim(-5, 135)
ax2.set_ylim(-0.125, 0.231)
ax2.xaxis.set_major_locator(MultipleLocator(25))
ax2.xaxis.set_minor_locator(MultipleLocator(12.5))
ax2.yaxis.set_major_locator(MultipleLocator(0.05))
ax2.yaxis.set_minor_locator(MultipleLocator(0.025))
ax2.yaxis.set_major_formatter(FormatStrFormatter("%.2f"))
style_axes(ax2, 55, 30, 38, 28, 62)
ax2.set_xlabel("time (s)", fontsize=85)
ax2.set_ylabel("z (m)", fontsize=85)
ax2.xaxis.set_label_coords(0.5, -0.0904)
ax2.yaxis.set_label_coords(-0.078, 0.495)
add_legend(ax2, h2, (0.0405, 0.9747, 0.1887))

fig.text(0.502, 0.5288, r"($\mathbf{a}$)", fontsize=56, ha="center", va="center")
fig.text(0.502, 0.0274, r"($\mathbf{b}$)", fontsize=56, ha="center", va="center")

fig.savefig("out.png", dpi=100)
